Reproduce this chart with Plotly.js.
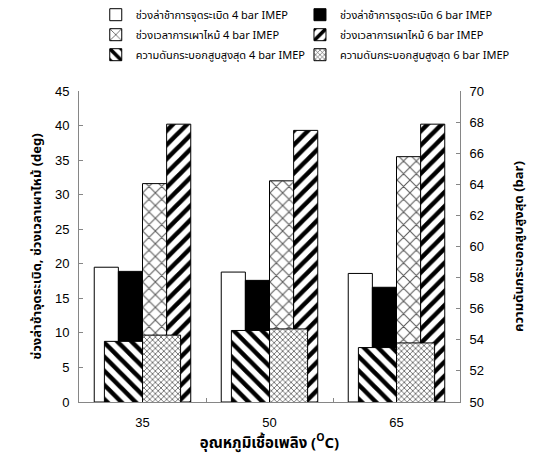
<!DOCTYPE html>
<html>
<head>
<meta charset="utf-8">
<script src="https://cdn.plot.ly/plotly-3.0.1.min.js"></script>
<style>html,body{margin:0;padding:0;background:#fff}#chart{width:540px;height:462px}</style>
</head>
<body>
<div id="chart"></div>
<script>
// Data
const categories = ['35', '50', '65'];
const ignDelay4 = [19.5, 18.8, 18.6];   // ช่วงล่าช้าการจุดระเบิด 4 bar IMEP (deg)
const ignDelay6 = [18.9, 17.6, 16.6];   // ช่วงล่าช้าการจุดระเบิด 6 bar IMEP (deg)
const burn4 = [31.6, 32.0, 35.5];       // ช่วงเวลาการเผาไหม้ 4 bar IMEP (deg)
const burn6 = [40.2, 39.3, 40.2];       // ช่วงเวลาการเผาไหม้ 6 bar IMEP (deg)
const pmax4 = [53.9, 54.6, 53.5];       // ความดันกระบอกสูบสูงสุด 4 bar IMEP (bar)
const pmax6 = [54.3, 54.7, 53.8];       // ความดันกระบอกสูบสูงสุด 6 bar IMEP (bar)
const names = [
  'ช่วงล่าช้าการจุดระเบิด 4 bar IMEP',
  'ช่วงล่าช้าการจุดระเบิด 6 bar IMEP',
  'ช่วงเวลาการเผาไหม้ 4 bar IMEP',
  'ช่วงเวลาการเผาไหม้ 6 bar IMEP',
  'ความดันกระบอกสูบสูงสุด 4 bar IMEP',
  'ความดันกระบอกสูบสูงสุด 6 bar IMEP'
];

const thai = "Tahoma, 'Noto Sans Thai', 'Noto Sans', 'DejaVu Sans', sans-serif";
const arial = "Arial, 'Liberation Sans', sans-serif";
const wP = 0.19, wS = 0.30;
const line = {color: '#000', width: 1};

function bar(y, name, yaxis, offset, width, marker, legend, grp) {
  return {type: 'bar', x: categories, y: y, name: name, yaxis: yaxis,
    offset: offset, width: width, marker: Object.assign({line: line}, marker),
    legend: legend, legendgroup: grp};
}

const traces = [
  bar(ignDelay4, names[0], 'y', -2*wP, wP, {color: '#fff'}, 'legend', 'a'),
  bar(ignDelay6, names[1], 'y', -wP, wP, {color: '#000'}, 'legend2', 'b'),
  bar(burn4, names[2], 'y', 0, wP, {color: '#fff', pattern: {shape: 'x', fgcolor: '#5a5a5a', bgcolor: '#fff', size: 9, solidity: 0.22}}, 'legend', 'c'),
  bar(burn6, names[3], 'y', wP, wP, {color: '#fff', pattern: {shape: '/', fgcolor: '#000', bgcolor: '#fff', size: 10, solidity: 0.45}}, 'legend2', 'd'),
  bar(pmax4, names[4], 'y2', -wS, wS, {color: '#fff', pattern: {shape: '\\', fgcolor: '#000', bgcolor: '#fff', size: 10, solidity: 0.45}}, 'legend', 'e'),
  bar(pmax6, names[5], 'y2', 0, wS, {color: '#fff', pattern: {shape: 'x', fgcolor: '#555', bgcolor: '#fff', size: 4, solidity: 0.35}}, 'legend2', 'f')
];

const axCol = '#868686';
const legendBase = {orientation: 'v', xanchor: 'left', y: 1.292, yanchor: 'top',
  xref: 'paper', yref: 'paper', tracegroupgap: 1,
  font: {family: thai, size: 11, color: '#000'}, itemwidth: 30,
  traceorder: 'grouped', bgcolor: 'rgba(0,0,0,0)'};

const layout = {
  width: 540, height: 462,
  margin: {l: 79, r: 80, t: 91, b: 60, autoexpand: false},
  paper_bgcolor: '#fff', plot_bgcolor: 'rgba(0,0,0,0)',
  barmode: 'overlay',
  font: {family: arial, size: 13, color: '#000'},
  showlegend: true,
  legend: Object.assign({}, legendBase, {x: 0.044}),
  legend2: Object.assign({}, legendBase, {x: 0.58}),
  xaxis: {type: 'category', range: [-0.5, 2.5], showline: true, linecolor: axCol, linewidth: 1,
    ticks: 'inside', tickson: 'boundaries', ticklen: 4, tickcolor: axCol, showgrid: false,
    tickfont: {family: arial, size: 13}, ticklabelstandoff: 8,
    title: {text: '<b>อุณหภูมิเชื้อเพลิง (<sup>O</sup>C)</b>', font: {family: thai, size: 15}, standoff: 8}},
  yaxis: {range: [0, 45], dtick: 5, showline: true, linecolor: axCol, linewidth: 1,
    ticks: 'inside', ticklen: 4, tickcolor: axCol, showgrid: false, zeroline: false,
    tickfont: {family: arial, size: 13}, ticklabelstandoff: 6,
    title: {text: '<b>ช่วงล่าช้าจุดระเบิด, ช่วงเวลาเผาไหม้ (deg)</b>', font: {family: thai, size: 13}, standoff: 10}},
  yaxis2: {range: [50, 70], dtick: 2, overlaying: 'y', side: 'right', showline: true, linecolor: axCol, linewidth: 1,
    ticks: 'inside', ticklen: 4, tickcolor: axCol, showgrid: false, zeroline: false,
    tickfont: {family: arial, size: 13}, ticklabelstandoff: 6,
    title: {text: '<b>ความดันกระบอกสูบสูงสุด (bar)</b>', font: {family: thai, size: 13}, standoff: 30}}
};

Plotly.newPlot('chart', traces, layout, {staticPlot: true, displayModeBar: false});
</script>
</body>
</html>
